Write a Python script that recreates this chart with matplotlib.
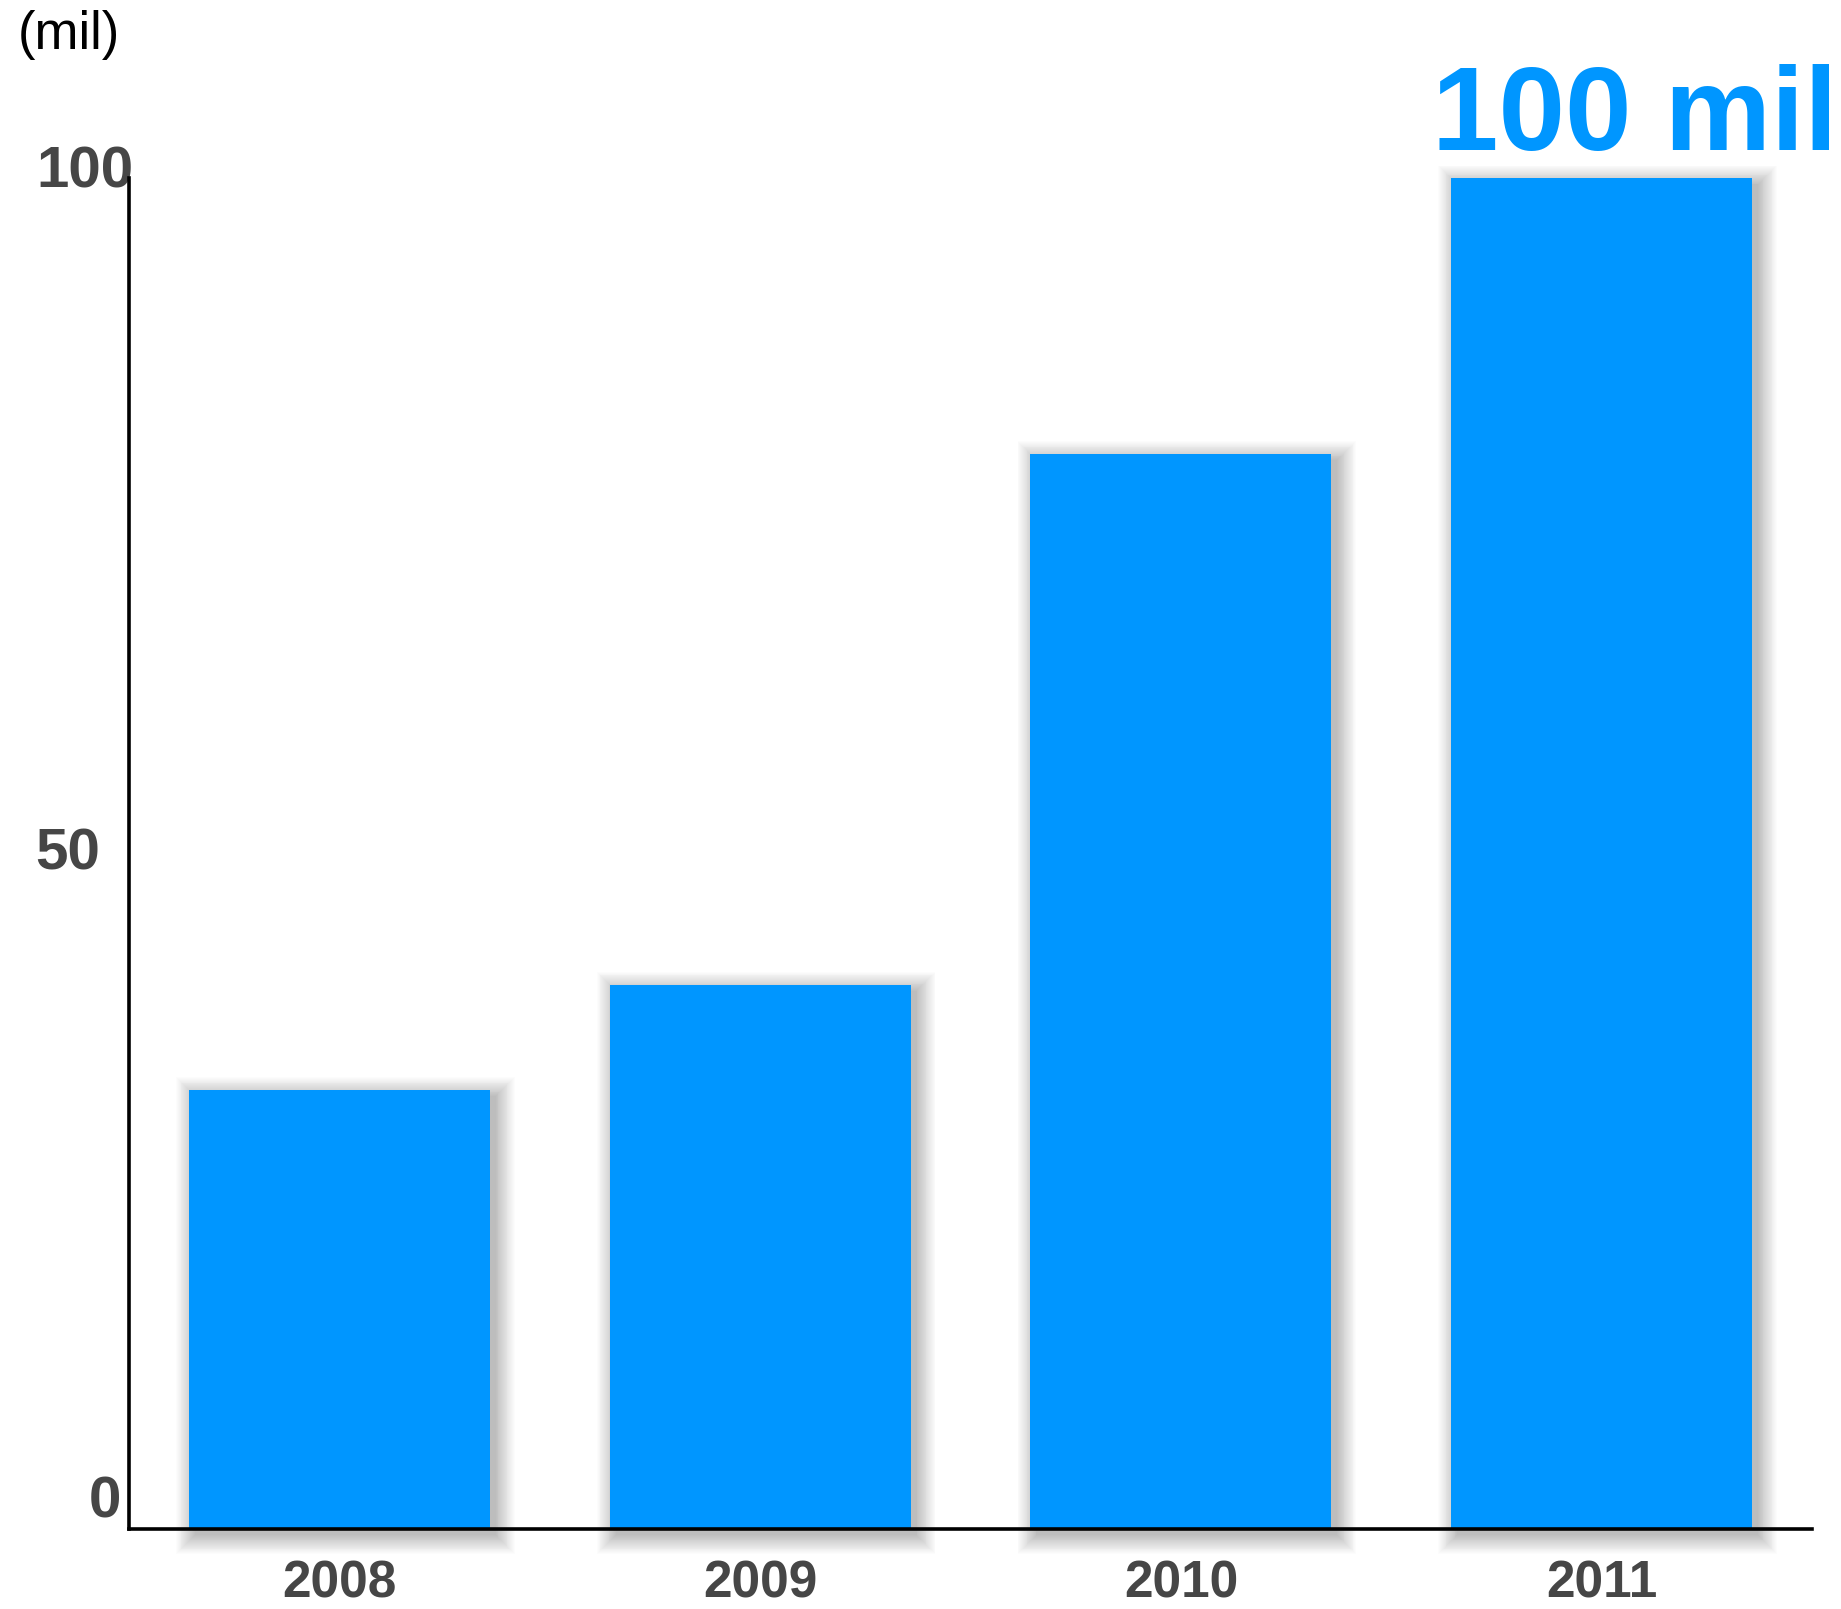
import matplotlib
matplotlib.use('Agg')
import matplotlib.pyplot as plt
from matplotlib.patches import Rectangle
from matplotlib.transforms import blended_transform_factory, ScaledTranslation
import numpy as np

# ---- data ----
years = ['2008', '2009', '2010', '2011']
values = [32.5, 40.3, 79.6, 100]
yticks = [0, 50, 100]
ytick_labels = ['0', '50', '100']
unit_label = '(mil)'
highlight_label = '100 mil'

BLUE = '#0096FF'
GRAY = '#464646'
W, H = 1841, 1609
plt.rcParams['font.family'] = ['Liberation Sans', 'DejaVu Sans']

fig = plt.figure(figsize=(W / 100, H / 100), dpi=100)
ax_left, ax_right, ax_bottom, ax_top = 129, 1812, 1529, 178.5
ax = fig.add_axes([ax_left / W, 1 - ax_bottom / H, (ax_right - ax_left) / W,
                   (ax_bottom - ax_top) / H])
x = np.arange(len(years))
ax.set_xlim(-0.5, len(years) - 0.5)
ax.set_ylim(0, 100)
bw = 0.715

# px -> data conversions
px_x = (len(years)) / (ax_right - ax_left)
px_y = 100 / (ax_bottom - ax_top)

# soft drop shadow
for xi, v in zip(x, values):
    for k in range(0, 22):
        e = k * 0.9
        ox, oy = 6, -6
        r = Rectangle((xi - bw / 2 - e * px_x + ox * px_x, -e * px_y + oy * px_y),
                      bw + 2 * e * px_x, v + 2 * e * px_y,
                      facecolor='black', edgecolor='none', alpha=0.013,
                      clip_on=False, zorder=0.5)
        ax.add_patch(r)

ax.bar(x, values, width=bw, color=BLUE, zorder=1)

for s in ['top', 'right']:
    ax.spines[s].set_visible(False)
for s in ['left', 'bottom']:
    ax.spines[s].set_linewidth(2.6)
    ax.spines[s].set_color('black')
    ax.spines[s].set_zorder(3)
ax.set_xticks([])
ax.set_yticks([])

# y tick labels
lab_right_px = {'0': 121, '50': 100, '100': 133}
lab_dy_px = {'0': 27, '50': -1, '100': 6}
for val, lab in zip(yticks, ytick_labels):
    tr = blended_transform_factory(fig.transFigure, ax.transData) + \
        ScaledTranslation(0, lab_dy_px[lab] / 100, fig.dpi_scale_trans)
    ax.text(lab_right_px[lab] / W, val, lab, transform=tr, ha='right', va='center',
            fontsize=42, fontweight='bold', color=GRAY, clip_on=False)

# x tick labels
trx = blended_transform_factory(ax.transData, fig.transFigure)
for xi, yr in zip(x, years):
    ax.text(xi, 1 - 1584 / H, yr, transform=trx, ha='center', va='center',
            fontsize=37, fontweight='bold', color=GRAY, clip_on=False)

fig.text(18 / W, 1 - 35 / H, unit_label, ha='left', va='center', fontsize=38,
         color='black')
fig.text(1838 / W, 1 - 150 / H, highlight_label, ha='right', va='baseline',
         fontsize=86, fontweight='bold', color=BLUE)

fig.savefig('out.png', dpi=100)
